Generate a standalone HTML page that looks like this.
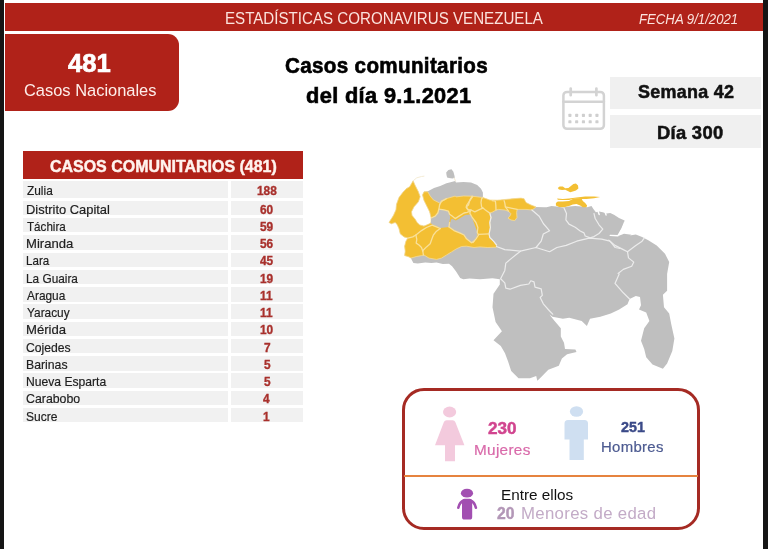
<!DOCTYPE html>
<html lang="es"><head><meta charset="utf-8"><title>Estadísticas Coronavirus Venezuela</title>
<style>
html,body{margin:0;padding:0;}
body{width:768px;height:549px;position:relative;overflow:hidden;background:#fff;font-family:"Liberation Sans",sans-serif;}
.abs{position:absolute;}
.t{position:absolute;white-space:pre;transform-origin:0 0;}
.bl{position:absolute;top:0;height:549px;background:#151515;}
.r{position:absolute;left:23px;width:280px;}
.r i{position:absolute;left:0;top:0;bottom:0;width:204.5px;background:#f1f1f1;}
.r b{position:absolute;left:207.7px;top:0;bottom:0;right:0;background:#f1f1f1;}
</style></head><body>
<div class="abs" style="left:5px;top:3px;width:758px;height:28px;background:#b02219"></div>
<div class="abs" style="left:5px;top:34px;width:174px;height:77px;background:#b02219;border-radius:0 11px 11px 0"></div>
<div class="abs" style="left:609.7px;top:76.7px;width:151.4px;height:32.7px;background:#f0f0f0"></div>
<div class="abs" style="left:609.7px;top:115.3px;width:151.4px;height:32.7px;background:#f0f0f0"></div>
<div class="abs" style="left:23px;top:151px;width:280px;height:27.8px;background:#b02219"></div>
<div class="r" style="top:181.10px;height:16.50px"><i></i><b></b></div>
<div class="r" style="top:200.70px;height:14.50px"><i></i><b></b></div>
<div class="r" style="top:217.97px;height:14.50px"><i></i><b></b></div>
<div class="r" style="top:235.24px;height:14.50px"><i></i><b></b></div>
<div class="r" style="top:252.51px;height:14.50px"><i></i><b></b></div>
<div class="r" style="top:269.78px;height:14.50px"><i></i><b></b></div>
<div class="r" style="top:287.05px;height:14.50px"><i></i><b></b></div>
<div class="r" style="top:304.32px;height:14.50px"><i></i><b></b></div>
<div class="r" style="top:321.59px;height:14.50px"><i></i><b></b></div>
<div class="r" style="top:338.86px;height:14.50px"><i></i><b></b></div>
<div class="r" style="top:356.13px;height:14.50px"><i></i><b></b></div>
<div class="r" style="top:373.40px;height:14.50px"><i></i><b></b></div>
<div class="r" style="top:390.67px;height:14.50px"><i></i><b></b></div>
<div class="r" style="top:407.94px;height:14.50px"><i></i><b></b></div>
<svg class="abs" width="768" height="549" viewBox="0 0 768 549" style="left:0;top:0">
<g stroke-linejoin="round" stroke-linecap="round">
<path d="M413.0 181.1 L409.6 186.8 L406.5 188.6 L402.8 192.4 L399.0 197.4 L396.5 204.2 L395.9 209.9 L393.4 215.5 L389.0 222.4 L389.0 222.5 L391.5 223.8 L395.2 222.5 L397.1 224.4 L399.0 228.8 L400.2 233.8 L404.0 236.9 L407.8 238.1 L405.9 241.2 L404.6 246.2 L405.2 251.2 L404.6 255.6 L409.0 256.9 L410.9 258.1 L411.8 260.0 L413.4 263.1 L417.8 263.5 L425.2 262.5 L431.5 263.1 L436.5 262.5 L442.8 264.0 L449.0 263.8 L452.1 266.2 L455.9 271.2 L460.2 278.0 L463.3 279.2 L469.6 278.6 L480.0 279.2 L492.5 278.2 L499.8 279.2 L499.8 284.4 L493.5 293.8 L492.5 307.3 L495.6 321.9 L501.9 331.3 L493.5 340.2 L500.8 345.9 L505.0 353.2 L508.1 361.5 L511.2 370.9 L518.5 378.2 L530.0 378.2 L536.2 376.1 L537.3 380.7 L540.0 378.2 L548.3 369.8 L558.8 365.7 L561.9 358.4 L567.1 354.2 L576.5 352.1 L575.4 349.4 L565.0 349.0 L564.0 342.8 L560.8 336.5 L560.8 328.2 L554.6 320.9 L549.4 314.6 L552.5 316.7 L562.9 318.8 L569.2 317.8 L581.7 320.9 L586.9 326.1 L590.0 318.8 L600.4 316.7 L610.8 313.6 L619.2 309.4 L627.5 304.2 L629.6 299.0 L635.8 295.9 L640.0 296.9 L641.0 305.2 L639.0 309.4 L646.2 312.5 L649.4 320.9 L644.2 328.2 L641.0 340.7 L644.2 349.0 L646.2 357.3 L652.5 364.6 L662.9 368.8 L667.1 363.6 L672.3 351.1 L674.4 338.6 L671.2 324.0 L669.2 313.6 L664.0 307.3 L662.9 294.8 L667.1 290.7 L667.1 274.0 L669.2 262.1 L665.0 253.8 L656.7 245.4 L648.3 240.2 L642.1 237.1 L635.8 234.6 L629.6 235.4 L631.5 234.8 L624.0 233.8 L618.4 236.0 L619.6 232.2 L621.5 228.5 L624.0 224.1 L624.6 220.4 L619.0 217.9 L614.0 214.8 L610.2 212.9 L606.5 213.5 L602.8 212.2 L599.0 211.6 L595.9 212.2 L593.4 209.1 L591.5 206.0 L587.1 207.2 L581.5 206.6 L575.2 206.0 L569.0 206.6 L562.8 207.5 L556.5 206.6 L551.5 206.0 L546.5 207.2 L544.0 207.2 L536.0 206.9 L531.0 205.0 L526.0 202.5 L524.1 198.8 L521.0 198.1 L512.2 198.8 L506.0 199.4 L497.2 200.2 L489.8 200.0 L482.9 197.5 L482.9 192.5 L481.0 188.8 L477.2 185.0 L471.0 182.5 L463.5 181.9 L456.0 182.5 L455.2 181.1 L451.5 182.0 L446.5 183.2 L440.2 186.1 L434.0 188.0 L428.4 191.1 L424.0 191.8 L422.5 194.9 L424.0 200.5 L426.5 205.5 L429.6 211.8 L431.2 218.0 L430.9 223.0 L428.4 224.2 L424.0 226.1 L419.6 224.9 L417.1 222.4 L415.2 219.2 L412.1 215.5 L411.5 211.8 L414.0 206.8 L418.4 201.8 L420.2 196.8 L418.4 191.8 L415.2 185.5Z" fill="#bfbfbf"/>
<path d="M446.5 174.9 L446.2 172.4 L448.4 169.9 L451.5 169.2 L453.4 171.8 L454.4 175.5 L454.8 177.8 L452.5 178.5 L449.0 178.0 L447.1 177.4Z" fill="#bfbfbf"/>
<path d="M413.0 181.1 L409.6 186.8 L406.5 188.6 L402.8 192.4 L399.0 197.4 L396.5 204.2 L395.9 209.9 L393.4 215.5 L389.0 222.4 L389.0 222.5 L391.5 223.8 L395.2 222.5 L397.1 224.4 L399.0 228.8 L400.2 233.8 L404.0 236.9 L407.8 238.1 L405.9 241.2 L404.6 246.2 L405.2 251.2 L404.6 255.6 L409.0 256.9 L410.9 258.1 L416.5 256.5 L421.5 255.6 L424.0 255.0 L429.0 258.1 L436.5 259.4 L441.5 258.1 L446.5 255.0 L451.5 251.9 L456.5 248.8 L461.5 246.5 L466.5 246.2 L474.0 247.5 L480.0 246.9 L487.2 247.5 L496.6 247.2 L496.6 245.0 L493.5 241.2 L489.8 237.5 L489.1 233.8 L490.4 227.5 L489.8 222.5 L491.0 217.5 L489.8 213.1 L492.9 211.9 L496.0 210.0 L498.5 209.4 L504.8 210.0 L508.5 211.2 L511.0 213.8 L509.8 216.2 L507.9 218.1 L511.0 220.0 L514.8 220.6 L517.0 217.5 L516.6 212.5 L517.2 209.4 L526.0 209.4 L532.2 210.0 L536.0 206.9 L531.0 205.0 L526.0 202.5 L524.1 198.8 L521.0 198.1 L512.2 198.8 L506.0 199.4 L497.2 200.2 L489.8 200.0 L482.9 197.5 L472.2 196.2 L463.5 196.0 L456.0 196.9 L455.2 196.1 L446.5 198.6 L439.6 203.0 L433.4 199.9 L430.2 196.1 L427.8 191.8 L424.0 191.8 L422.5 194.9 L424.0 200.5 L426.5 205.5 L429.6 211.8 L431.2 218.0 L430.9 223.0 L428.4 224.2 L424.0 226.1 L419.6 224.9 L417.1 222.4 L415.2 219.2 L412.1 215.5 L411.5 211.8 L414.0 206.8 L418.4 201.8 L420.2 196.8 L418.4 191.8 L415.2 185.5Z" fill="#f3bf33" stroke="#f8dc92" stroke-width="0.8"/>
<path d="M431.2 218.0 L435.2 216.1 L437.8 213.0 L439.0 209.2 L444.0 209.9 L448.4 211.1 L449.6 214.2 L450.2 218.0 L449.0 223.0 L449.6 222.5 L449.0 226.9 L440.2 228.1 L436.5 226.2 L432.1 224.4 L430.9 223.1Z" fill="#bfbfbf"/>
<path d="M450.2 222.5 L449.0 226.9 L454.0 230.6 L460.2 233.1 L464.0 235.0 L466.5 238.8 L471.5 242.8 L474.0 241.2 L477.1 236.2 L477.1 231.2 L475.2 226.2 L473.4 221.2 L471.5 216.2 L470.2 214.4 L465.2 215.0 L460.2 218.1 L455.9 220.6 L452.1 218.8 L450.9 220.0Z" fill="#bfbfbf"/>
<path d="M555.9 202.9 L557.8 201.6 L562.8 201.6 L569.0 201.0 L572.8 199.1 L576.5 198.2 L581.5 198.5 L582.8 201.0 L585.2 202.9 L587.1 205.4 L586.5 207.2 L582.8 207.2 L580.2 205.4 L576.5 204.1 L572.8 204.5 L569.0 206.0 L564.0 207.2 L559.0 207.0 L555.9 205.4Z" fill="#f3bf33"/>
<path d="M557.1 198.5 L562.8 198.9 L569.0 198.5 L576.5 197.5 L585.2 196.6 L594.0 196.6 L600.2 197.0 L594.0 198.2 L586.5 199.1 L581.5 199.1 L576.5 198.5 L572.8 199.1 L569.0 200.0 L562.8 200.0 L557.8 199.8Z" fill="#f3bf33"/>
<path d="M557.8 187.9 L559.6 186.6 L562.8 186.6 L565.2 188.2 L568.4 187.9 L570.9 186.0 L573.4 184.1 L575.9 183.5 L578.0 185.4 L578.4 188.5 L575.9 190.4 L572.8 191.6 L570.2 192.2 L567.8 191.0 L565.2 189.8 L562.1 190.0 L559.0 189.5Z" fill="#f3bf33"/>
<g fill="none" stroke="#fff" stroke-width="1.4"><path d="M624.6 222.2 L622.1 228.5 L619.6 232.9 L617.8 235.8 L610.2 235.4"/><path d="M598.0 211.0 L599.2 214.5"/><path d="M605.2 212.5 L606.1 215.0"/></g>
<g fill="none" stroke="#f3ead0" stroke-width="0.9"><path d="M454.2 178.0 L455.5 181.0"/><path d="M413.5 180.5 L416.8 177.8 L421.5 176.5 L424.0 176.2"/></g>
<g fill="none" stroke="#ececec" stroke-width="1.2"><path d="M496.5 246.5 L504.8 249.6 L520.4 251.2 L536.0 247.5 L549.6 251.7 L556.9 247.5 L566.2 245.4 L576.7 241.2 L589.2 238.1 L601.7 239.2 L610.0 241.2 L615.2 247.5 L620.0 248.5"/><path d="M531.9 210.0 L539.2 216.2 L543.3 223.5 L549.6 230.8 L543.3 234.0 L541.2 241.2 L536.0 247.5"/><path d="M564.0 207.9 L566.5 213.5 L565.9 219.8 L569.0 224.1 L575.2 227.2 L580.2 231.0 L584.0 232.9 L585.2 236.0 L590.2 237.9"/><path d="M594.0 213.5 L595.2 218.5 L599.0 224.8 L602.8 229.1 L599.0 233.5 L594.0 236.6 L590.2 237.9"/><path d="M520.4 251.2 L512.1 257.9 L505.8 263.1 L504.8 270.4 L500.6 278.8 L504.8 282.9 L505.8 288.1 L510.0 289.2 L520.4 285.4 L528.8 284.0 L530.8 280.8 L534.0 281.9 L535.0 287.1 L541.2 288.8 L542.3 295.4 L540.2 297.5 L543.3 303.8 L549.6 311.0 L552.7 314.2"/><path d="M608.8 240.2 L615.0 245.4 L623.3 249.6 L627.5 251.7 L635.8 245.4 L642.1 241.2 L644.2 238.1"/><path d="M627.5 251.7 L628.5 257.9 L633.8 262.1 L631.7 266.2 L623.3 269.4 L618.1 273.5"/><path d="M619.2 274.0 L615.0 283.4 L623.3 292.8 L629.6 299.0"/><path d="M489.8 213.1 L491.0 217.5 L489.8 222.5 L490.4 227.5 L489.1 233.8 L489.8 237.5 L493.5 241.2 L496.6 245.0"/></g>
<g fill="none" stroke="#f9e09a" stroke-width="1.3"><path d="M407.8 238.1 L412.8 236.9 L415.9 235.0 L421.5 230.6 L426.5 227.5 L432.1 225.2 L436.5 226.9 L440.2 228.5"/><path d="M415.9 235.0 L416.8 239.4 L416.2 243.1 L419.0 245.0 L421.5 247.5 L422.8 251.2 L423.4 255.0"/><path d="M440.2 228.5 L436.5 231.2 L433.4 235.0 L431.5 240.0 L430.2 243.8 L426.5 246.9 L423.4 250.0 L422.8 251.2"/><path d="M439.6 204.9 L441.5 201.1 L446.5 198.6"/><path d="M439.6 204.9 L439.0 208.6 L437.8 213.0 L435.2 216.1 L431.2 218.0"/><path d="M439.0 209.2 L444.0 209.9 L448.4 211.1 L449.6 214.2 L452.1 216.1 L455.2 218.6 L459.0 216.1 L464.0 213.0 L467.1 212.4 L470.2 211.1"/><path d="M472.8 196.5 L470.9 199.2 L469.0 201.8 L466.5 205.5 L467.1 208.6 L470.2 211.1"/><path d="M472.2 196.2 L469.8 200.0 L468.5 205.0 L466.0 206.9 L467.9 210.0 L471.0 210.0 L474.8 211.9 L479.8 209.4 L482.9 208.1 L485.4 210.0 L489.8 213.1"/><path d="M482.9 197.5 L481.6 198.8 L481.0 202.5 L481.6 206.9 L482.9 208.1"/><path d="M492.2 200.6 L495.4 201.2 L495.8 205.0 L496.0 210.0"/><path d="M504.1 200.6 L504.8 203.1 L505.4 206.9 L508.5 211.2"/><path d="M505.4 206.9 L511.0 208.1 L517.2 209.4"/><path d="M471.0 210.0 L469.8 213.1 L472.2 217.5 L476.0 222.5 L477.9 227.5 L477.2 232.5 L478.5 235.0 L476.0 238.8 L472.9 242.5"/><path d="M478.5 234.4 L489.1 233.8"/><path d="M449.0 226.9 L454.0 230.6 L460.2 233.1 L464.0 235.0 L466.5 238.8 L471.5 242.8 L474.0 241.2"/><path d="M449.6 222.5 L449.0 226.9"/></g>
</g></svg>
<div class="abs" style="left:402px;top:388.2px;width:298px;height:142px;box-sizing:border-box;border:3px solid #a52a23;border-bottom-width:3.5px;border-radius:22px"></div>
<div class="abs" style="left:404px;top:474.7px;width:294px;height:2.3px;background:#e6833f"></div>
<svg class="abs" width="768" height="549" viewBox="0 0 768 549" style="left:0;top:0">
<!-- calendar -->
<g fill="none" stroke="#d3d3d3" stroke-width="2.5" stroke-linecap="round">
<rect x="563.4" y="91.9" width="40.5" height="36.9" rx="3.6"/>
<path d="M563.4 101.7H603.9"/>
<path d="M570.7 88.6V95.2M596.4 88.6V95.2" stroke-width="2.7"/>
</g>
<g fill="#cfcfcf"><rect x="568.35" y="113.85" width="3.1" height="3.1" rx="0.7"/><rect x="575.11" y="113.85" width="3.1" height="3.1" rx="0.7"/><rect x="581.87" y="113.85" width="3.1" height="3.1" rx="0.7"/><rect x="588.63" y="113.85" width="3.1" height="3.1" rx="0.7"/><rect x="595.39" y="113.85" width="3.1" height="3.1" rx="0.7"/><rect x="568.35" y="120.25" width="3.1" height="3.1" rx="0.7"/><rect x="575.11" y="120.25" width="3.1" height="3.1" rx="0.7"/><rect x="581.87" y="120.25" width="3.1" height="3.1" rx="0.7"/><rect x="588.63" y="120.25" width="3.1" height="3.1" rx="0.7"/><rect x="595.39" y="120.25" width="3.1" height="3.1" rx="0.7"/></g>
<!-- woman -->
<g fill="#f3cadd">
<ellipse cx="449.6" cy="412" rx="6.6" ry="5.4"/>
<path d="M446.6 420.3H452.6Q454.6 420.3 455.4 422.2L464.4 445.3H455V461.3H445V445.3H435L443.8 422.2Q444.6 420.3 446.6 420.3Z"/>
</g>
<!-- man -->
<g fill="#cfdff1">
<ellipse cx="576.5" cy="411.5" rx="6.6" ry="5.2"/>
<path d="M568 420H584.5Q588 420 588 423.5V439.5H583.8V460H569.5V439.5H564.5V423.5Q564.5 420 568 420Z"/>
</g>
<!-- child -->
<g fill="#a24fb1">
<ellipse cx="467" cy="493.2" rx="6.1" ry="4.4"/>
<rect x="462" y="498.8" width="10.2" height="20.8" rx="2.6"/>
<path d="M464 500.6Q459.6 502 458.3 507.8" fill="none" stroke="#a24fb1" stroke-width="2.6" stroke-linecap="round"/>
<path d="M470.2 500.6Q474.6 502 475.9 507.8" fill="none" stroke="#a24fb1" stroke-width="2.6" stroke-linecap="round"/>
</g>
</svg>
<div class="t" style="left:224.50px;top:10.00px;font:normal normal 16.23px/1 'Liberation Sans',sans-serif;color:#fbe3dd;transform:scaleX(0.9324)">ESTADÍSTICAS CORONAVIRUS VENEZUELA</div>
<div class="t" style="left:638.50px;top:12.05px;font:italic normal 14.06px/1 'Liberation Sans',sans-serif;color:#fbe3dd;transform:scaleX(0.9388)">FECHA 9/1/2021</div>
<div class="t" style="left:68.00px;top:50.97px;font:normal bold 25.80px/1 'Liberation Sans',sans-serif;color:#fff;transform:scaleX(0.9933);-webkit-text-stroke:0.72px #fff">481</div>
<div class="t" style="left:24.00px;top:83.00px;font:normal normal 15.65px/1 'Liberation Sans',sans-serif;color:#fdeeea;transform:scaleX(1.0509)">Casos Nacionales</div>
<div class="t" style="left:285.00px;top:55.02px;font:normal bold 21.74px/1 'Liberation Sans',sans-serif;color:#000;transform:scaleX(0.9485);letter-spacing:0.350px;-webkit-text-stroke:0.61px #000">Casos comunitarios</div>
<div class="t" style="left:306.00px;top:85.02px;font:normal bold 21.74px/1 'Liberation Sans',sans-serif;color:#000;transform:scaleX(1.0026);letter-spacing:0.350px;-webkit-text-stroke:0.61px #000">del día 9.1.2021</div>
<div class="t" style="left:638.00px;top:82.89px;font:normal bold 18.84px/1 'Liberation Sans',sans-serif;color:#111;transform:scaleX(0.9534);letter-spacing:0.300px;-webkit-text-stroke:0.53px #111">Semana 42</div>
<div class="t" style="left:657.00px;top:123.89px;font:normal bold 18.84px/1 'Liberation Sans',sans-serif;color:#111;transform:scaleX(0.9759);letter-spacing:0.300px;-webkit-text-stroke:0.53px #111">Día 300</div>
<div class="t" style="left:50.00px;top:159.05px;font:normal bold 15.94px/1 'Liberation Sans',sans-serif;color:#fff3ee;transform:scaleX(1.0016);-webkit-text-stroke:0.45px #fff3ee">CASOS COMUNITARIOS (481)</div>
<div class="t" style="left:488.00px;top:420.86px;font:normal bold 16.52px/1 'Liberation Sans',sans-serif;color:#d1458f;transform:scaleX(1.0381);-webkit-text-stroke:0.46px #d1458f">230</div>
<div class="t" style="left:474.00px;top:443.03px;font:normal normal 14.20px/1 'Liberation Sans',sans-serif;color:#d96aaa;transform:scaleX(1.0784);letter-spacing:0.300px;-webkit-text-stroke:0.20px #d96aaa">Mujeres</div>
<div class="t" style="left:620.50px;top:420.01px;font:normal bold 14.93px/1 'Liberation Sans',sans-serif;color:#3b4a88;transform:scaleX(0.9600);-webkit-text-stroke:0.42px #3b4a88">251</div>
<div class="t" style="left:601.00px;top:440.03px;font:normal normal 14.20px/1 'Liberation Sans',sans-serif;color:#4d5b91;transform:scaleX(1.0517);letter-spacing:0.300px;-webkit-text-stroke:0.20px #4d5b91">Hombres</div>
<div class="t" style="left:501.00px;top:488.07px;font:normal normal 14.86px/1 'Liberation Sans',sans-serif;color:#111;transform:scaleX(1.0290)">Entre ellos</div>
<div class="t" style="left:27.00px;top:184.02px;font:normal normal 13.04px/1 'Liberation Sans',sans-serif;color:#202020;transform:scaleX(0.9123);-webkit-text-stroke:0.18px #202020">Zulia</div>
<div class="t" style="left:257.00px;top:185.09px;font:normal bold 12.25px/1 'Liberation Sans',sans-serif;color:#a8302c;transform:scaleX(0.9700);-webkit-text-stroke:0.34px #a8302c">188</div>
<div class="t" style="left:26.00px;top:203.02px;font:normal normal 13.04px/1 'Liberation Sans',sans-serif;color:#202020;transform:scaleX(0.9904);-webkit-text-stroke:0.18px #202020">Distrito Capital</div>
<div class="t" style="left:260.00px;top:204.09px;font:normal bold 12.25px/1 'Liberation Sans',sans-serif;color:#a8302c;transform:scaleX(0.9700);-webkit-text-stroke:0.34px #a8302c">60</div>
<div class="t" style="left:27.00px;top:220.02px;font:normal normal 13.04px/1 'Liberation Sans',sans-serif;color:#202020;transform:scaleX(0.8921);-webkit-text-stroke:0.18px #202020">Táchira</div>
<div class="t" style="left:260.00px;top:221.09px;font:normal bold 12.25px/1 'Liberation Sans',sans-serif;color:#a8302c;transform:scaleX(0.9700);-webkit-text-stroke:0.34px #a8302c">59</div>
<div class="t" style="left:26.00px;top:237.02px;font:normal normal 13.04px/1 'Liberation Sans',sans-serif;color:#202020;transform:scaleX(1.0041);-webkit-text-stroke:0.18px #202020">Miranda</div>
<div class="t" style="left:260.00px;top:238.09px;font:normal bold 12.25px/1 'Liberation Sans',sans-serif;color:#a8302c;transform:scaleX(0.9700);-webkit-text-stroke:0.34px #a8302c">56</div>
<div class="t" style="left:26.00px;top:254.02px;font:normal normal 13.04px/1 'Liberation Sans',sans-serif;color:#202020;transform:scaleX(0.8901);-webkit-text-stroke:0.18px #202020">Lara</div>
<div class="t" style="left:260.00px;top:255.09px;font:normal bold 12.25px/1 'Liberation Sans',sans-serif;color:#a8302c;transform:scaleX(0.9700);-webkit-text-stroke:0.34px #a8302c">45</div>
<div class="t" style="left:26.00px;top:272.02px;font:normal normal 13.04px/1 'Liberation Sans',sans-serif;color:#202020;transform:scaleX(0.9071);-webkit-text-stroke:0.18px #202020">La Guaira</div>
<div class="t" style="left:260.00px;top:273.09px;font:normal bold 12.25px/1 'Liberation Sans',sans-serif;color:#a8302c;transform:scaleX(0.9700);-webkit-text-stroke:0.34px #a8302c">19</div>
<div class="t" style="left:27.00px;top:289.02px;font:normal normal 13.04px/1 'Liberation Sans',sans-serif;color:#202020;transform:scaleX(0.9117);-webkit-text-stroke:0.18px #202020">Aragua</div>
<div class="t" style="left:260.00px;top:290.09px;font:normal bold 12.25px/1 'Liberation Sans',sans-serif;color:#a8302c;transform:scaleX(0.9700);-webkit-text-stroke:0.34px #a8302c">11</div>
<div class="t" style="left:27.00px;top:306.02px;font:normal normal 13.04px/1 'Liberation Sans',sans-serif;color:#202020;transform:scaleX(0.9104);-webkit-text-stroke:0.18px #202020">Yaracuy</div>
<div class="t" style="left:260.00px;top:307.09px;font:normal bold 12.25px/1 'Liberation Sans',sans-serif;color:#a8302c;transform:scaleX(0.9700);-webkit-text-stroke:0.34px #a8302c">11</div>
<div class="t" style="left:26.00px;top:323.02px;font:normal normal 13.04px/1 'Liberation Sans',sans-serif;color:#202020;transform:scaleX(1.0063);-webkit-text-stroke:0.18px #202020">Mérida</div>
<div class="t" style="left:260.00px;top:324.09px;font:normal bold 12.25px/1 'Liberation Sans',sans-serif;color:#a8302c;transform:scaleX(0.9700);-webkit-text-stroke:0.34px #a8302c">10</div>
<div class="t" style="left:26.00px;top:341.02px;font:normal normal 13.04px/1 'Liberation Sans',sans-serif;color:#202020;transform:scaleX(0.9353);-webkit-text-stroke:0.18px #202020">Cojedes</div>
<div class="t" style="left:264.00px;top:342.09px;font:normal bold 12.25px/1 'Liberation Sans',sans-serif;color:#a8302c;transform:scaleX(0.9700);-webkit-text-stroke:0.34px #a8302c">7</div>
<div class="t" style="left:26.00px;top:358.02px;font:normal normal 13.04px/1 'Liberation Sans',sans-serif;color:#202020;transform:scaleX(0.9404);-webkit-text-stroke:0.18px #202020">Barinas</div>
<div class="t" style="left:264.00px;top:359.09px;font:normal bold 12.25px/1 'Liberation Sans',sans-serif;color:#a8302c;transform:scaleX(0.9700);-webkit-text-stroke:0.34px #a8302c">5</div>
<div class="t" style="left:26.00px;top:375.02px;font:normal normal 13.04px/1 'Liberation Sans',sans-serif;color:#202020;transform:scaleX(0.9308);-webkit-text-stroke:0.18px #202020">Nueva Esparta</div>
<div class="t" style="left:264.00px;top:376.09px;font:normal bold 12.25px/1 'Liberation Sans',sans-serif;color:#a8302c;transform:scaleX(0.9700);-webkit-text-stroke:0.34px #a8302c">5</div>
<div class="t" style="left:26.00px;top:392.02px;font:normal normal 13.04px/1 'Liberation Sans',sans-serif;color:#202020;transform:scaleX(0.9468);-webkit-text-stroke:0.18px #202020">Carabobo</div>
<div class="t" style="left:263.00px;top:393.09px;font:normal bold 12.25px/1 'Liberation Sans',sans-serif;color:#a8302c;transform:scaleX(0.9700);-webkit-text-stroke:0.34px #a8302c">4</div>
<div class="t" style="left:26.00px;top:410.02px;font:normal normal 13.04px/1 'Liberation Sans',sans-serif;color:#202020;transform:scaleX(0.9240);-webkit-text-stroke:0.18px #202020">Sucre</div>
<div class="t" style="left:263.00px;top:411.09px;font:normal bold 12.25px/1 'Liberation Sans',sans-serif;color:#a8302c;transform:scaleX(0.9700);-webkit-text-stroke:0.34px #a8302c">1</div>
<div class="t" style="left:497.00px;top:506.00px;font:normal bold 15.65px/1 'Liberation Sans',sans-serif;color:#b397b7;transform:scaleX(1.0012);-webkit-text-stroke:0.44px #b397b7">20</div>
<div class="t" style="left:520.50px;top:505.00px;font:normal normal 16.23px/1 'Liberation Sans',sans-serif;color:#c3abc7;transform:scaleX(1.0356);letter-spacing:0.300px">Menores de edad</div>
<div class="bl" style="left:0;width:4.4px"></div>
<div class="bl" style="left:763.4px;width:4.6px"></div>
</body></html>
